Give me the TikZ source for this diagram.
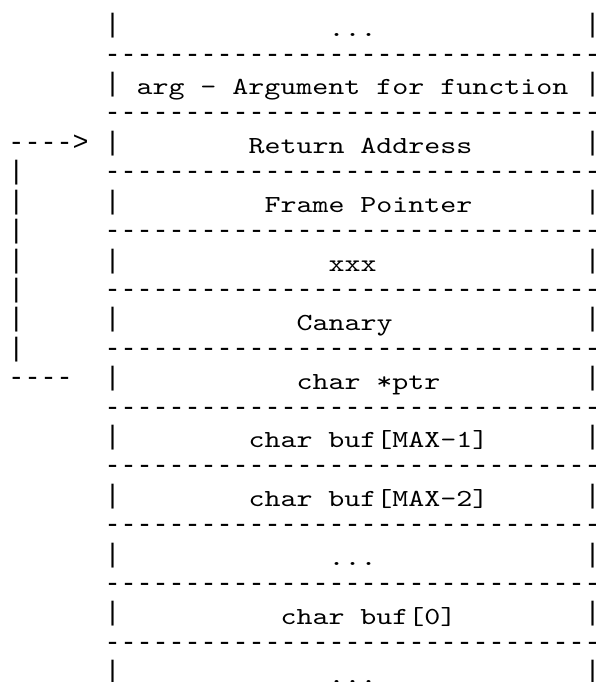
\documentclass[tikz,border=0pt]{standalone}
\usepackage{fontspec}
\setmonofont{Liberation Mono}
\newfontfamily\labelfont{lmmono10-regular.otf}[FakeStretch=1.244]
\tikzset{
        rule/.style={anchor=base west, inner sep=0pt, font=\ttfamily\fontsize{26.67}{30}\selectfont},
        txt/.style={anchor=base west, inner sep=0pt, font=\labelfont\fontsize{24.5}{30}\selectfont}
    }

\begin{document}
\begin{tikzpicture}[x=1pt, y=-1pt]
            \useasboundingbox (0,0) rectangle (595,682);

            % separators and side walls of the stack
            \foreach \l in {1,3,...,21}
                \node [rule] (sep\l) at (104.3, 32.8+29.4*\l) {-------------------------------};
            \foreach \l in {0,2,...,22} {
                \node [rule] (lwall\l) at (104.3, 32.8+29.4*\l) {|};
                \node [rule] (rwall\l) at (584.3, 32.8+29.4*\l) {|};
            }

            \node [txt] (top)    at (328.3,  36.2) {...};
            \node [txt] (arg)    at (136.3,  95.0) {arg - Argument for function};
            \node [txt] (ret)    at (248.3, 153.8) {Return Address};
            \node [txt] (fp)     at (264.3, 212.6) {Frame Pointer};
            \node [txt] (xxx)    at (328.3, 271.4) {xxx};
            \node [txt] (canary) at (296.3, 330.2) {Canary};
            \node [txt] (ptr)    at (296.3, 389.0) {char *ptr};
            \node [txt] (buf1)   at (248.3, 447.8) {char buf[MAX-1]};
            \node [txt] (buf2)   at (248.3, 506.6) {char buf[MAX-2]};
            \node [txt] (dots)   at (328.3, 565.4) {...};
            \node [txt] (buf0)   at (280.3, 624.2) {char buf[0]};
            \node [txt] (bottom) at (328.3, 683.0) {...};

            % ptr points back to the return address
            \node [rule] (head) at (8.3, 150.4) {---->};
            \foreach \l in {5,...,11}
                \node [rule] (link\l) at (8.3, 32.8+29.4*\l) {|};
            \node [rule] (tail) at (8.3, 385.6) {----};
        \end{tikzpicture}
\end{document}
